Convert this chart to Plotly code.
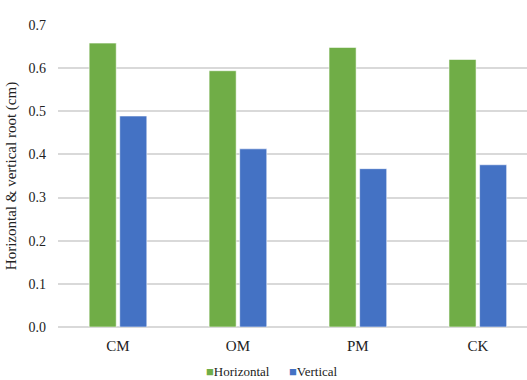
import plotly.graph_objects as go

# Root growth by treatment
treatments = ["CM", "OM", "PM", "CK"]
horizontal = [0.658, 0.594, 0.648, 0.620]
vertical = [0.489, 0.413, 0.367, 0.376]
y_ticks = [0.0, 0.1, 0.2, 0.3, 0.4, 0.5, 0.6, 0.7]
series_names = ["Horizontal", "Vertical"]

GREEN = "#70AD47"
BLUE = "#4472C4"
FONT = "Liberation Serif, Times New Roman, serif"
TEXT = "#222222"

fig = go.Figure()
for name, values, color in zip(series_names, [horizontal, vertical], [GREEN, BLUE]):
    fig.add_trace(go.Bar(
        name=name, x=treatments, y=values, showlegend=False,
        marker=dict(color=color, line=dict(color="rgba(255,255,255,0.55)", width=1)),
    ))

# Compact legend row beneath the axis
legend_text = (
    f"<span style='color:{GREEN}'>■</span>{series_names[0]}"
    "&nbsp;&nbsp;&nbsp;&nbsp;&nbsp;&nbsp;"
    f"<span style='color:{BLUE}'>■</span>{series_names[1]}"
)
fig.add_annotation(
    text=legend_text, xref="paper", yref="paper",
    x=0.456, y=-0.148, xanchor="center", yanchor="middle",
    showarrow=False, borderpad=0,
    font=dict(family=FONT, size=13, color=TEXT),
)

fig.update_layout(
    width=527, height=380,
    margin=dict(l=58, r=0, t=25, b=53),
    paper_bgcolor="white", plot_bgcolor="white",
    barmode="group", bargap=0.49, bargroupgap=0.115,
    font=dict(family=FONT, size=13, color=TEXT),
    showlegend=False,
)
fig.update_xaxes(
    type="category", range=[-0.5, 3.41],
    showgrid=False, showline=False, zeroline=False,
    ticks="", ticklabelstandoff=8,
    tickfont=dict(family=FONT, size=15, color=TEXT),
)
fig.update_yaxes(
    range=[0, 0.7], tickvals=y_ticks, tickformat=".1f",
    showgrid=True, gridcolor="#D9D9D9", gridwidth=1.5,
    zeroline=True, zerolinecolor="#D9D9D9", zerolinewidth=1.5,
    showline=False, ticks="", ticklabelstandoff=11,
    tickfont=dict(family=FONT, size=14, color=TEXT),
    title=dict(text="Horizontal & vertical root (cm)", standoff=8,
               font=dict(family=FONT, size=15, color=TEXT)),
)

fig.write_html("out.html")
